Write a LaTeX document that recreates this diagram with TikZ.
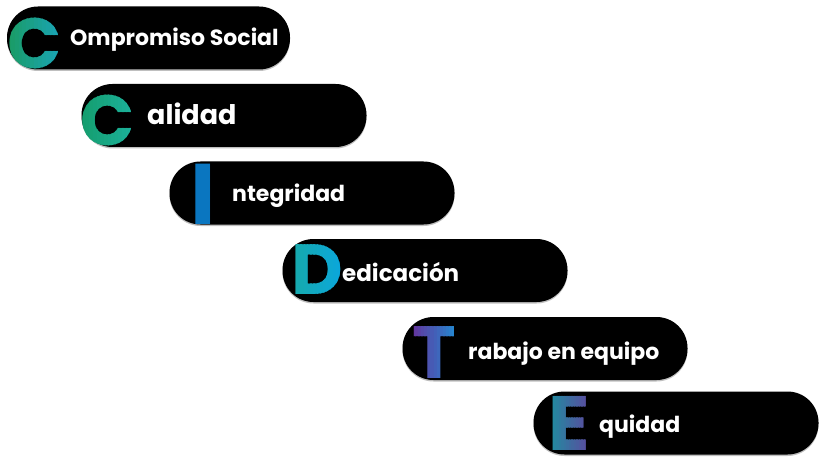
\documentclass[tikz,border=0pt]{standalone}
\usepackage{fontspec}
\setmainfont{Poppins}
\usetikzlibrary{shadows}

\definecolor{cgreenA}{HTML}{1A9A5C}
\definecolor{cblueA}{HTML}{1AA6BF}
\definecolor{cgreenB}{HTML}{149C6A}
\definecolor{ctealB}{HTML}{1CB3A0}
\definecolor{iblue}{HTML}{0A76C0}
\definecolor{dteal}{HTML}{17A9A9}
\definecolor{dblue}{HTML}{0AA7DD}
\definecolor{tpurple}{HTML}{6A2C98}
\definecolor{tblue}{HTML}{1F8FD5}
\definecolor{eteal}{HTML}{1E8FA0}
\definecolor{epurple}{HTML}{5B4A9F}

\tikzset{
  pill/.style={rectangle, rounded corners=31pt, fill=black, inner sep=0pt,
    minimum width=285pt, minimum height=63pt,
    drop shadow={shadow xshift=0pt, shadow yshift=-1.5pt, opacity=0.25, fill=black}},
  word/.style={anchor=base west, inner sep=0pt, text=white,
    font=\bfseries\fontsize{#1}{#1}\selectfont},
  word/.default=22,
  bigletter/.style={inner sep=0pt, font=\bfseries\fontsize{#1}{#1}\selectfont}
}

% big initial with a left-to-right colour blend
% #1 name, #2 x, #3 y, #4 letter, #5 size, #6 half width, #7 left colour, #8 right colour
\newcommand{\gradletter}[8]{%
  \foreach \k [evaluate=\k as \pct using int(100*(\k+0.5)/16)] in {0,...,15}{
    \begin{scope}
      \clip ({#2-#6+\k*#6/8},{#3-50}) rectangle ++({#6/8+0.7},100);
      \node[bigletter=#5, text=#8!\pct!#7] at (#2,#3) {#4};
    \end{scope}}
  \node[bigletter=#5, text opacity=0] (#1) at (#2,#3) {#4};
}

\begin{document}
\begin{tikzpicture}[x=1pt, y=-1pt]
  \useasboundingbox (0,0) rectangle (829,465);

  % bars
  \node[pill, minimum width=283pt] (bar1) at (148.5,38) {};
  \node[pill] (bar2) at (224,115.5) {};
  \node[pill] (bar3) at (312,193) {};
  \node[pill] (bar4) at (425,270.5) {};
  \node[pill] (bar5) at (545,348.5) {};
  \node[pill] (bar6) at (676,423) {};

  % initials
  \gradletter{let1}{34.5}{43}{C}{71}{31}{cgreenA}{cblueA}
  \gradletter{let2}{108}{120}{C}{71}{29}{cgreenB}{ctealB}
  \node[bigletter=86, text=iblue] (let3) at (203,194) {I};
  \gradletter{let4}{317}{270}{D}{71}{26}{dteal}{dblue}
  \gradletter{let5}{434}{353}{T}{74}{25}{tpurple}{tblue}
  \gradletter{let6}{569}{423}{E}{77}{20}{eteal}{epurple}

  % words
  \node[word] (word1) at (70,46) {Ompromiso Social};
  \node[word=27] (word2) at (147,125) {alidad};
  \node[word] (word3) at (232,201) {ntegridad};
  \node[word=23] (word4) at (342,281) {edicación};
  \node[word] (word5) at (468,359) {rabajo en equipo};
  \node[word] (word6) at (599,432) {quidad};
\end{tikzpicture}
\end{document}
